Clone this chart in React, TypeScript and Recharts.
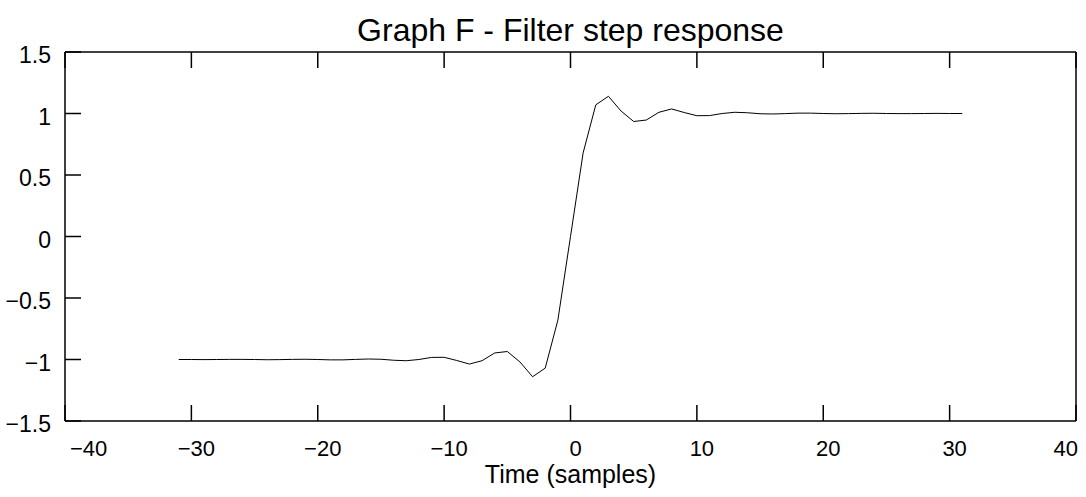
import React from "react"
import { LineChart, Line, XAxis, YAxis, Label } from "recharts"

const samples = [
	-31, -30, -29, -28, -27, -26, -25, -24, -23, -22, -21, -20, -19, -18, -17, -16,
	-15, -14, -13, -12, -11, -10, -9, -8, -7, -6, -5, -4, -3, -2, -1, 0, 1, 2, 3, 4,
	5, 6, 7, 8, 9, 10, 11, 12, 13, 14, 15, 16, 17, 18, 19, 20, 21, 22, 23, 24, 25,
	26, 27, 28, 29, 30, 31,
]

const response = [
	-1.0, -1.0, -1.001, -1.0, -0.999, -0.999, -1.0, -1.002, -1.001, -0.999, -0.998,
	-1.0, -1.003, -1.003, -0.999, -0.996, -0.998, -1.006, -1.01, -1.0, -0.983,
	-0.982, -1.008, -1.037, -1.01, -0.947, -0.935, -1.02, -1.14, -1.07, -0.68, 0.0,
	0.68, 1.07, 1.14, 1.02, 0.935, 0.947, 1.01, 1.037, 1.008, 0.982, 0.983, 1.0,
	1.01, 1.006, 0.998, 0.996, 0.999, 1.003, 1.003, 1.0, 0.998, 0.999, 1.001, 1.002,
	1.0, 0.999, 0.999, 1.0, 1.001, 1.0, 1.0,
]

const xTicks = [-40, -30, -20, -10, 0, 10, 20, 30, 40]
const yTicks = [-1.5, -1, -0.5, 0, 0.5, 1, 1.5]

const data = samples.map((t, i) => ({ t, v: response[i] }))

const font = '"Liberation Sans", Arial, sans-serif'
const fmt = (v: number) => String(v).replace("-", "\u2212")
const blank = () => ""

// end labels are pulled inside the frame, the rest sit a little right of the tick
const XTick = (props: any) => {
	const { x, y, payload, index } = props
	const last = index === xTicks.length - 1
	const first = index === 0
	const anchor = first ? "start" : last ? "end" : "middle"
	const dx = first ? 5 : last ? 2 : 5
	return (
		<text
			x={x + dx}
			y={y}
			dy="0.71em"
			textAnchor={anchor}
			fontSize={22}
			fill="#000"
			fontFamily={font}>
			{fmt(payload.value)}
		</text>
	)
}

const App = () => {
	return (
		<div style={{ position: "absolute", left: 0, top: 0, width: 1086, height: 497, fontFamily: font }}>
			<div
				style={{
					position: "absolute",
					left: 65,
					width: 1011,
					top: 12,
					textAlign: "center",
					fontSize: 32,
					lineHeight: "36px",
					color: "#000",
				}}>
				Graph F - Filter step response
			</div>
			<LineChart width={1086} height={497} data={data} margin={{ top: 0, right: 0, bottom: 0, left: 0 }}>
				<XAxis
					xAxisId="bottom"
					dataKey="t"
					type="number"
					domain={[-40, 40]}
					ticks={xTicks}
					height={76}
					tickSize={-16}
					tickMargin={35}
					interval={0}
					stroke="#000"
					strokeWidth={1.5}
					tick={<XTick />}>
					<Label
						value="Time (samples)"
						position="insideBottom"
						offset={14}
						style={{ fontSize: 25, fill: "#000", fontFamily: font }}
					/>
				</XAxis>
				<XAxis
					xAxisId="top"
					orientation="top"
					dataKey="t"
					type="number"
					domain={[-40, 40]}
					ticks={xTicks}
					height={52}
					tickSize={-16}
					tickFormatter={blank}
					interval={0}
					stroke="#000"
					strokeWidth={1.5}
				/>
				<YAxis
					yAxisId="left"
					type="number"
					domain={[-1.5, 1.5]}
					ticks={yTicks}
					width={65}
					tickSize={-16}
					tickMargin={30}
					tickFormatter={fmt}
					interval={0}
					stroke="#000"
					strokeWidth={1.5}
					tick={{ fontSize: 23, fill: "#000", fontFamily: font, dy: 3 }}
				/>
				<YAxis
					yAxisId="right"
					orientation="right"
					type="number"
					domain={[-1.5, 1.5]}
					ticks={yTicks}
					width={10}
					tickSize={-16}
					tickFormatter={blank}
					interval={0}
					stroke="#000"
					strokeWidth={1.5}
				/>
				<Line
					xAxisId="bottom"
					yAxisId="left"
					dataKey="v"
					type="linear"
					stroke="#000"
					strokeWidth={1}
					dot={false}
					activeDot={false}
					isAnimationActive={false}
				/>
			</LineChart>
		</div>
	)
}

export default App
